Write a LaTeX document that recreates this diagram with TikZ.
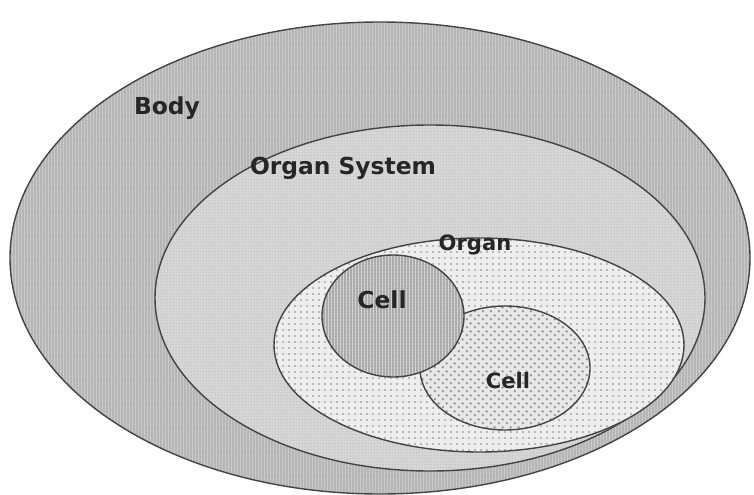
\documentclass[tikz,border=0pt]{standalone}
\usepackage{fontspec}
\setmainfont{DejaVu Sans}
\usetikzlibrary{patterns.meta}

\definecolor{bodygray}{HTML}{B6B6B6}
\definecolor{sysgray}{HTML}{D6D6D6}
\definecolor{organgray}{HTML}{EEEEEE}
\definecolor{cellgray}{HTML}{ABABAB}
\definecolor{dotcell}{HTML}{E8E8E8}
\definecolor{rim}{HTML}{444444}

\tikzdeclarepattern{name=vstripes, type=uncolored,
  bounding box={(0pt,0pt) and (1.8pt,1.8pt)}, tile size={(1.8pt,1.8pt)},
  code={\fill (0pt,0pt) rectangle (0.6pt,1.8pt);}}
\tikzdeclarepattern{name=finedots, type=uncolored,
  bounding box={(0pt,0pt) and (1.8pt,1.8pt)}, tile size={(1.8pt,1.8pt)},
  code={\fill (0.9pt,0.9pt) circle (0.45pt);}}
\tikzdeclarepattern{name=sparsedots, type=uncolored,
  bounding box={(0pt,0pt) and (3.4pt,3.4pt)}, tile size={(3.4pt,3.4pt)},
  code={\fill (1.7pt,1.7pt) circle (0.6pt);}}
\tikzdeclarepattern{name=bigdots, type=uncolored,
  bounding box={(0pt,0pt) and (4.4pt,4.4pt)}, tile size={(4.4pt,4.4pt)},
  code={\fill (1.1pt,1.1pt) circle (0.75pt); \fill (3.3pt,3.3pt) circle (0.75pt);}}

\tikzset{
  rimline/.style={draw=rim, line width=0.8pt},
  lbl/.style={font=\bfseries\fontsize{13.3}{15}\selectfont, text=black!85, inner sep=0pt},
  smalllbl/.style={lbl, font=\bfseries\fontsize{12}{14}\selectfont}
}

\begin{document}
\begin{tikzpicture}[x=0.02cm,y=-0.02cm]
  \useasboundingbox (0,0) rectangle (754,494);
  % body
  \fill[white] (0,0) rectangle (754,494);
  \fill[bodygray] (380,258) ellipse (370 and 236);
  \fill[pattern=vstripes, pattern color=black!20] (380,258) ellipse (370 and 236);
  \draw[rimline] (380,258) ellipse (370 and 236);
  % organ system
  \fill[sysgray] (430,298) ellipse (275 and 173);
  \fill[pattern=finedots, pattern color=black!25] (430,298) ellipse (275 and 173);
  \draw[rimline] (430,298) ellipse (275 and 173);
  % organ
  \fill[organgray] (479,345) ellipse (205 and 107);
  \fill[pattern=sparsedots, pattern color=black!35] (479,345) ellipse (205 and 107);
  \draw[rimline] (479,345) ellipse (205 and 107);
  % cells
  \fill[dotcell] (505,368) ellipse (85 and 62);
  \fill[pattern=bigdots, pattern color=black!40] (505,368) ellipse (85 and 62);
  \draw[rimline] (505,368) ellipse (85 and 62);
  \fill[cellgray] (393,316) ellipse (71 and 61);
  \fill[pattern=vstripes, pattern color=black!15] (393,316) ellipse (71 and 61);
  \draw[rimline] (393,316) ellipse (71 and 61);

  \node[lbl] (body) at (167,108) {Body};
  \node[lbl] (system) at (343,168) {Organ System};
  \node[smalllbl] (organ) at (475,245) {Organ};
  \node[lbl] (cellA) at (382,300) {Cell};
  \node[smalllbl] (cellB) at (508,381) {Cell};
\end{tikzpicture}
\end{document}
